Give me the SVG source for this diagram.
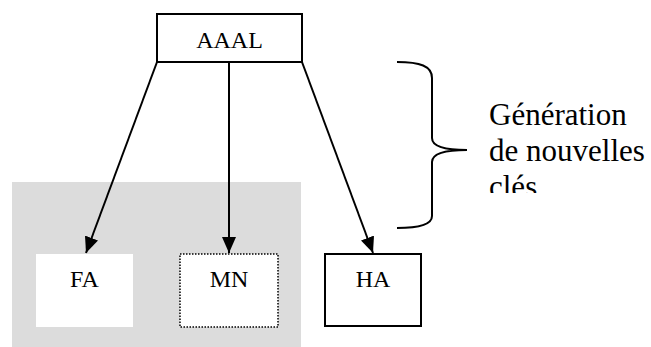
<svg xmlns="http://www.w3.org/2000/svg" width="651" height="347" viewBox="0 0 651 347">
  <style>
    .lbl { font-family: "Liberation Serif", "Times New Roman", serif; font-size: 24px; fill: #000; text-anchor: middle; }
    .note { font-family: "Liberation Serif", "Times New Roman", serif; font-size: 31px; fill: #000; }
    .box { fill: #fff; stroke: #000; stroke-width: 2; }
    .edge { fill: none; stroke: #000; stroke-width: 2; marker-end: url(#head); }
  </style>
  <defs>
    <marker id="head" markerUnits="userSpaceOnUse" markerWidth="16" markerHeight="14" refX="16" refY="7" orient="auto">
      <path d="M0,0 L16,7 L0,14 Z" fill="#000"/>
    </marker>
    <clipPath id="noteClip">
      <rect x="480" y="95" width="171" height="98"/>
    </clipPath>
  </defs>

  <!-- shaded region holding FA and MN -->
  <rect id="zone" x="12" y="182" width="289" height="165" fill="#dcdcdc"/>

  <g id="AAAL">
    <rect class="box" x="157" y="14" width="145" height="48"/>
    <text class="lbl" x="229.5" y="48">AAAL</text>
  </g>

  <g id="FA">
    <rect x="36" y="254" width="97" height="73" fill="#fff"/>
    <text class="lbl" x="84.5" y="287">FA</text>
  </g>

  <g id="MN">
    <rect x="180" y="254" width="98" height="73" fill="#fff" stroke="#000" stroke-width="1.5" stroke-dasharray="1.5 1.5"/>
    <text class="lbl" x="229" y="287">MN</text>
  </g>

  <g id="HA">
    <rect class="box" x="325" y="254" width="96" height="72"/>
    <text class="lbl" x="373" y="287">HA</text>
  </g>

  <g id="connectors">
    <line class="edge" x1="157" y1="62" x2="86" y2="253"/>
    <line class="edge" x1="229" y1="62" x2="229" y2="253"/>
    <line class="edge" x1="302" y1="62" x2="373" y2="253"/>
  </g>

  <!-- brace grouping the new keys -->
  <path id="brace" d="M397,62 C420,62 432,66 432,78 L432,138 C432,146 445,150 467,150 C445,150 432,154 432,162 L432,216 C432,224 420,228 397,228" fill="none" stroke="#000" stroke-width="2"/>

  <g id="note" clip-path="url(#noteClip)">
    <text class="note" x="489" y="125">Génération</text>
    <text class="note" x="489" y="161">de nouvelles</text>
    <text class="note" x="489" y="197">clés</text>
  </g>
</svg>
